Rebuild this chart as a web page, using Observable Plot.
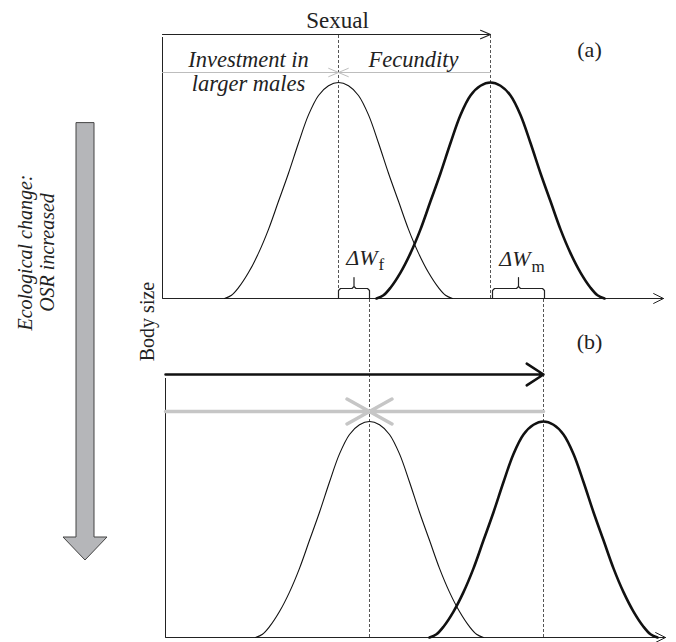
<!DOCTYPE html>
<html>
<head>
<meta charset="utf-8">
<script src="https://cdn.jsdelivr.net/npm/d3@7"></script>
<script src="https://cdn.jsdelivr.net/npm/@observablehq/plot@0.6"></script>
<style>
  html, body { margin: 0; padding: 0; background: #fff; }
  #chart { width: 676px; height: 642px; }
</style>
</head>
<body>
<div id="chart"></div>
<script>
// ---- Data (diagram units: x = body size, y = height; panel (b) baseline at y = 0) ----
const panels = ["a", "b"];
const panelBaseline = [339, 0];
const femaleMean = [338, 369];
const maleMean = [490, 543];
const peakHeight = 216;
// bell shape: offset from the mean vs relative height
const bellOffset = [-114, -107, -100, -90, -80, -70, -60, -50, -40, -30, -20, -10, 0, 10, 20, 30, 40, 50, 60, 70, 80, 90, 100, 107, 114];
const bellHeight = [0, 0.015, 0.05, 0.12, 0.21, 0.32, 0.45, 0.58, 0.72, 0.85, 0.94, 0.985, 1, 0.985, 0.94, 0.85, 0.72, 0.58, 0.45, 0.32, 0.21, 0.12, 0.05, 0.015, 0];

// axes of each panel
const axisX0 = [162, 165];
const axisXEnd = [663, 665];
const axisYTop = [600, 259];

// ΔW brackets (panel a)
const bracketLabel = ["f", "m"];
const bracketStart = [338, 492];
const bracketEnd = [369, 544];

// arrows
const sexualArrow = {x1: 162, x2: 490, y: 603};
const investArrowsA = [{x1: 162, x2: 338, y: 565}, {x1: 490, x2: 338, y: 565}];
const sexualArrowB = {x1: 165, x2: 543, y: 263};
const investArrowsB = [{x1: 165, x2: 369, y: 226}, {x1: 543, x2: 369, y: 226}];

// dashed guides
const guideX = [338, 490, 369, 543];
const guideY1 = [339, 339, 0, 0];
const guideY2 = [602, 602, 339, 339];

// big "ecological change" arrow outline
const bigArrowY = [514, 100, 100, 77];
const bigArrowLeft = [76, 76, 63, 85];
const bigArrowRight = [94, 94, 107, 85];

// text
const serif = "'Liberation Serif', 'DejaVu Serif', serif";
const romanText = [
  {text: "Sexual", x: 337, y: 610, size: 23},
  {text: "(a)", x: 589, y: 581, size: 22},
  {text: "(b)", x: 589, y: 289, size: 22}
];
const italicText = [
  {text: "Investment in", x: 248, y: 571},
  {text: "larger males", x: 248, y: 547},
  {text: "Fecundity", x: 413, y: 571}
];
const deltaText = [
  {text: "ΔW", x: 377, y: 373, sub: "f", sx: 378, sy: 368},
  {text: "ΔW", x: 530, y: 372, sub: "m", sx: 531, sy: 366}
];
const sideText = [
  {text: "Body size", x: 147, y: 316, italic: false},
  {text: "Ecological change:", x: 25, y: 385, italic: true},
  {text: "OSR increased", x: 47, y: 385, italic: true}
];

// ---- derived tables ----
const curves = [];
panels.forEach((p, i) => {
  bellOffset.forEach((o, k) => {
    curves.push({panel: p, sex: "female", x: femaleMean[i] + o, y: panelBaseline[i] + bellHeight[k] * peakHeight});
    curves.push({panel: p, sex: "male", x: maleMean[i] + o, y: panelBaseline[i] + bellHeight[k] * peakHeight});
  });
});
const femaleCurves = curves.filter(d => d.sex === "female");
const maleCurves = curves.filter(d => d.sex === "male");

const yAxes = panels.map((p, i) => ({x: axisX0[i], y1: panelBaseline[i], y2: axisYTop[i]}));
const xAxes = panels.map((p, i) => ({x1: axisX0[i], x2: axisXEnd[i], y: panelBaseline[i]}));
const guides = guideX.map((x, i) => ({x, y1: guideY1[i], y2: guideY2[i]}));

const brackets = [];
bracketLabel.forEach((lab, i) => {
  const b = panelBaseline[0], a = bracketStart[i], c = bracketEnd[i], m = (a + c) / 2;
  [[a, b], [a, b + 8], [a + 2, b + 10], [m - 2, b + 10], [m, b + 12], [m, b + 21], [m, b + 12], [m + 2, b + 10], [c - 2, b + 10], [c, b + 8], [c, b]]
    .forEach(([x, y]) => brackets.push({id: lab, x, y}));
});

const bigArrow = bigArrowY.map((y, i) => ({y, x1: bigArrowLeft[i], x2: bigArrowRight[i]}));

const ink = "#222";

const chart = Plot.plot({
  width: 676,
  height: 642,
  margin: 0,
  x: {domain: [0, 676], axis: null},
  y: {domain: [-5, 637], axis: null},
  style: {background: "#fff", fontFamily: serif},
  marks: [
    // big grey arrow
    Plot.areaX(bigArrow, {y: "y", x1: "x1", x2: "x2", fill: "#b5b6b9", stroke: "#444", strokeWidth: 1, curve: "linear"}),
    // dashed guides
    Plot.ruleX(guides, {x: "x", y1: "y1", y2: "y2", stroke: "#555", strokeWidth: 1, strokeDasharray: "3,2"}),
    // panel axes
    Plot.ruleX(yAxes, {x: "x", y1: "y1", y2: "y2", stroke: ink, strokeWidth: 1}),
    Plot.arrow(xAxes, {x1: "x1", x2: "x2", y1: "y", y2: "y", stroke: ink, strokeWidth: 1, headAngle: 53, headLength: 16.5}),
    // arrows, panel a
    Plot.arrow([sexualArrow], {x1: "x1", x2: "x2", y1: "y", y2: "y", stroke: ink, strokeWidth: 1.2, headAngle: 46, headLength: 13.5}),
    Plot.arrow(investArrowsA, {x1: "x1", x2: "x2", y1: "y", y2: "y", stroke: "#bdbdbd", strokeWidth: 1, headAngle: 46, headLength: 16}),
    // arrows, panel b
    Plot.arrow(investArrowsB, {x1: "x1", x2: "x2", y1: "y", y2: "y", stroke: "#c6c6c6", strokeWidth: 3.5, headAngle: 58, headLength: 11}),
    Plot.arrow([sexualArrowB], {x1: "x1", x2: "x2", y1: "y", y2: "y", stroke: "#111", strokeWidth: 2.5, headAngle: 66, headLength: 12}),
    // curves
    Plot.line(femaleCurves, {x: "x", y: "y", z: "panel", stroke: "#111", strokeWidth: 1.1, curve: "catmull-rom"}),
    Plot.line(maleCurves, {x: "x", y: "y", z: "panel", stroke: "#111", strokeWidth: 2.6, curve: "catmull-rom"}),
    // brackets
    Plot.line(brackets, {x: "x", y: "y", z: "id", stroke: ink, strokeWidth: 1.2}),
    // texts
    Plot.text(romanText, {x: "x", y: "y", text: "text", fontSize: d => d.size, lineAnchor: "bottom", textAnchor: "middle", fill: ink, fontFamily: serif}),
    Plot.text(italicText, {x: "x", y: "y", text: "text", fontSize: 22.5, fontStyle: "italic", lineAnchor: "bottom", textAnchor: "middle", fill: ink, fontFamily: serif}),
    Plot.text(deltaText, {x: "x", y: "y", text: "text", fontSize: 22, fontStyle: "italic", lineAnchor: "bottom", textAnchor: "end", fill: ink, fontFamily: serif}),
    Plot.text(deltaText, {x: "sx", y: "sy", text: "sub", fontSize: 17, lineAnchor: "bottom", textAnchor: "start", fill: ink, fontFamily: serif}),
    Plot.text(sideText.filter(d => !d.italic), {x: "x", y: "y", text: "text", fontSize: 20, rotate: -90, textAnchor: "middle", lineAnchor: "middle", fill: ink, fontFamily: serif}),
    Plot.text(sideText.filter(d => d.italic), {x: "x", y: "y", text: "text", fontSize: 20, fontStyle: "italic", rotate: -90, textAnchor: "middle", lineAnchor: "middle", fill: ink, fontFamily: serif})
  ]
});
document.getElementById("chart").appendChild(chart);
</script>
</body>
</html>
